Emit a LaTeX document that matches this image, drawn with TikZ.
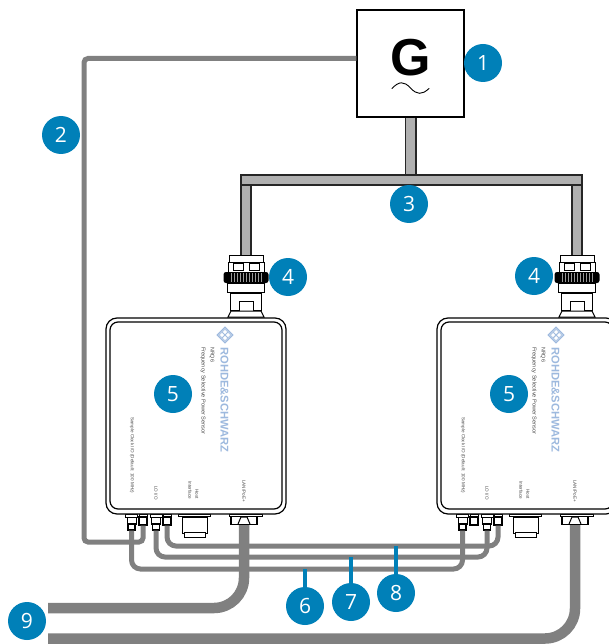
\documentclass[tikz,border=0pt]{standalone}
\usepackage{fontspec}
\setmainfont{Open Sans}
\newfontfamily\rsfont{Liberation Sans}
\usetikzlibrary{calc}
\definecolor{rsblue}{HTML}{0080B8}
\definecolor{cablegray}{HTML}{808080}
\definecolor{trunkgray}{HTML}{B0B0B0}
\definecolor{logoblue}{HTML}{9DB9DE}
\tikzset{
  badge/.style={circle,fill=rsblue,text=white,minimum size=38pt,inner sep=0pt,font=\fontsize{21}{21}\selectfont},
  leader/.style={draw=rsblue,line width=3.5pt},
  cable/.style={draw=cablegray,line width=5pt,rounded corners=9pt},
  thickcable/.style={draw=cablegray,line width=10.5pt,rounded corners=30pt},
  trunkout/.style={draw=black!85,line width=12pt},
  trunkin/.style={draw=trunkgray,line width=8.4pt},
  part/.style={draw=black,fill=white,line width=1pt,inner sep=0pt,rectangle},
  tiny/.style={rotate=-90,anchor=west,inner sep=0pt,text=black!70,font=\rsfont\fontsize{4.6}{5.2}\selectfont,align=left},
  brand/.style={rotate=-90,anchor=west,inner sep=0pt,text=logoblue,font=\rsfont\bfseries\fontsize{11.2}{12}\selectfont},
  shellout/.style={draw=black,fill=white,line width=1.2pt,rounded corners=11pt,rectangle,inner sep=0pt,minimum width=180pt,minimum height=196pt},
  shellin/.style={draw=black,line width=1.2pt,rounded corners=8pt,rectangle,inner sep=0pt,minimum width=172pt,minimum height=187pt},
}
% RF connector stack: prefix, centre x
\newcommand{\rfstack}[2]{%
  \node[part,minimum width=31pt,minimum height=17pt] (#1neck) at (#2,302) {};
  \node[part,minimum width=14pt,minimum height=10pt] (#1sq) at (#2,306.5) {};
  \draw[line width=1pt,fill=white] (#2-15,311) -- (#2+15,311) -- (#2+18,317) -- (#2-18,317) -- cycle;
  \node[part,minimum width=37pt,minimum height=9pt] (#1low) at (#2,287.5) {};
  \node[part,minimum width=36pt,minimum height=10pt] (#1mid) at (#2,267) {};
  \node[part,minimum width=10pt,minimum height=7pt] at (#2-8,267) {};
  \node[part,minimum width=10pt,minimum height=7pt] at (#2+8,267) {};
  \node[part,minimum width=34pt,minimum height=7pt] (#1top) at (#2,258.5) {};
  \node[rectangle,fill=black,rounded corners=2.5pt,minimum width=45pt,minimum height=11pt,inner sep=0pt] (#1knurl) at (#2,277.5) {};
  \foreach \k in {-15,-12,...,15}{\draw[black!40,line width=.6pt] (#2+\k,273) -- (#2+\k,282);}
}
% sensor: prefix, x offset
\newcommand{\sensor}[2]{%
  \begin{scope}[xshift=#2pt]
  % ports first, so their flanges touch the housing
  \node[part,minimum width=12pt,minimum height=3pt] (#1af) at (131.5,515.5) {};
  \node[part,minimum width=9pt,minimum height=7pt] (#1an) at (131.5,520.5) {};
  \node[part,line width=1.4pt,minimum width=7pt,minimum height=6pt] (#1a) at (131.5,527) {};
  \node[part,minimum width=8pt,minimum height=2.5pt] (#1bf) at (143,515.5) {};
  \node[part,line width=1.2pt,minimum width=8pt,minimum height=8pt] (#1b) at (143,521) {};
  \node[part,minimum width=12pt,minimum height=3pt] (#1cf) at (156,515.5) {};
  \node[part,minimum width=9pt,minimum height=7pt] (#1cn) at (156,520.5) {};
  \node[part,line width=1.4pt,minimum width=7pt,minimum height=6pt] (#1c) at (156,527) {};
  \node[part,minimum width=8pt,minimum height=2.5pt] (#1df) at (167,515.5) {};
  \node[part,line width=1.2pt,minimum width=8pt,minimum height=8pt] (#1d) at (167,521) {};
  \node[part,minimum width=32pt,minimum height=2.5pt] (#1hf) at (194,515.5) {};
  \node[part,minimum width=25pt,minimum height=16pt] (#1h) at (195,525) {};
  \node[part,line width=1.4pt,minimum width=21pt,minimum height=5pt] (#1hb) at (195,535) {};
  \node[part,minimum width=33pt,minimum height=2pt] (#1lf) at (245.5,515) {};
  \node[part,line width=1.4pt,minimum width=26pt,minimum height=8pt] (#1l) at (244,520.5) {};
  \draw[line width=1pt] (238,524) -- (241,517) -- (247,517) -- (250,524);
  \node[shellout] (#1shell) at (196,416) {};
  \node[shellin] (#1inner) at (196,415.5) {};
  % logo
  \node[draw=logoblue,line width=1.2pt,rotate=45,minimum size=11pt,inner sep=0pt,rectangle] (#1logo) at (225,335) {};
  \node[draw=logoblue,line width=.6pt,rotate=45,minimum size=3.8pt,inner sep=0pt,rectangle] (#1logoa) at (225,332) {};
  \node[draw=logoblue,line width=.6pt,rotate=45,minimum size=3.8pt,inner sep=0pt,rectangle] (#1logob) at (225,338) {};
  \node[draw=logoblue,line width=.6pt,rotate=45,minimum size=3.8pt,inner sep=0pt,rectangle] (#1logoc) at (222,335) {};
  \node[draw=logoblue,line width=.6pt,rotate=45,minimum size=3.8pt,inner sep=0pt,rectangle] (#1logod) at (228,335) {};
  \node[brand] (#1brand) at (224.5,347) {ROHDE\&SCHWARZ};
  \node[tiny,font=\rsfont\fontsize{5.4}{6}\selectfont] (#1model) at (212,347) {NRQ6};
  \node[tiny,font=\rsfont\fontsize{5.6}{6}\selectfont] (#1desc) at (203,347) {Frequency Selective Power Sensor};
  \node[tiny] (#1clk) at (132,417) {Sample Clock I/O (Default: 100 MHz)};
  \node[tiny] (#1lo) at (156,486) {LO I/O};
  \node[tiny] (#1host) at (197,489) {Host};
  \node[tiny] (#1if) at (190,481) {Interface};
  \node[tiny] (#1lan) at (244,480) {LAN/PoE+};
  \end{scope}
}
\begin{document}
\begin{tikzpicture}[x=1pt,y=-1pt]
\useasboundingbox (0,0) rectangle (608,644);

% generator
\node[draw=black,fill=white,line width=1.3pt,minimum size=107pt,inner sep=0pt,rectangle] (G) at (410.5,63.5) {};
\node[inner sep=0pt,font=\rsfont\bfseries\fontsize{52}{52}\selectfont] (Gl) at (411,58) {G};

% connector stacks
\rfstack{A}{246}
\rfstack{B}{577}

% splitter trunk
\coordinate (Ta) at (240,180);
\coordinate (Tb) at (583,180);
\foreach \s in {trunkout,trunkin}{
  \draw[\s] (G.south) -- (G.south |- Ta);
  \draw[\s] (Atop.north) -- (Atop.north |- Ta);
  \draw[\s] (Btop.north) -- (Btop.north |- Tb);
}
\draw[trunkout] (Ta) -- (Tb);
\draw[trunkin,shorten >=1.8pt,shorten <=1.8pt] (Ta) -- (Tb);

% sensors
\sensor{L}{0}
\sensor{R}{331}

% thin cables
\coordinate (Gout) at (G.west |- 0,58.5);
\draw[cable,rounded corners=4pt] (Gout) -- (84,58.5) -- (84,542) -- (Lb.south |- 0,542) -- (Lb.south);
\draw[cable] (Ld.south) -- (Ld.south |- 0,546) -- (Rd.south |- 0,546) -- (Rd.south);
\draw[cable] (Lc.south) -- (Lc.south |- 0,557) -- (Rc.south |- 0,557) -- (Rc.south);
\draw[cable] (La.south) -- (La.south |- 0,569) -- (Ra.south |- 0,569) -- (Ra.south);

% thick cables
\coordinate (LANa) at (48,608);
\coordinate (LANb) at (48,638.5);
\draw[thickcable] (LANa) -- (Ll.south |- 0,608) -- (Ll.south);
\draw[thickcable] (LANb) -- (Rl.south |- 0,638.5) -- (Rl.south);

% tilde
\draw[line width=.9pt,line cap=round] (392,88.5) .. controls (399,81) and (404,81) .. (410.5,88) .. controls (417,95) and (422,95) .. (429,88.5);

% numbered badges and leaders
\coordinate (c6) at (305,569);
\coordinate (c7) at (351,557);
\coordinate (c8) at (396,546);
\node[badge] (n6) at (305,606) {6};
\node[badge] (n7) at (351,602) {7};
\node[badge] (n8) at (396,593) {8};
\draw[leader] (c6) -- (n6);
\draw[leader] (c7) -- (n7);
\draw[leader] (c8) -- (n8);
\node[badge] (n1) at (483,63) {1};
\node[badge] (n2) at (61,135) {2};
\node[badge] (n3) at (409,204) {3};
\node[badge] (n4a) at (288,277) {4};
\node[badge] (n4b) at (534,276) {4};
\node[badge] (n5a) at (173,394) {5};
\node[badge] (n5b) at (509,394) {5};
\node[badge] (n9) at (27,621) {9};
\end{tikzpicture}
\end{document}
